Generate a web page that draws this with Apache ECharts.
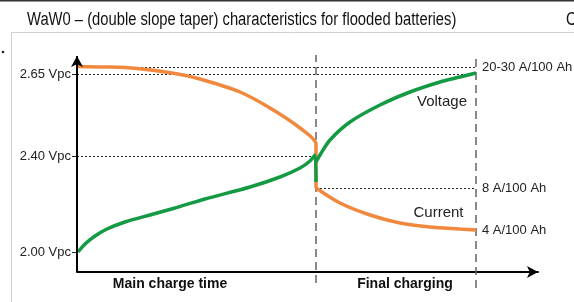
<!DOCTYPE html>
<html>
<head>
<meta charset="utf-8">
<script src="https://cdn.jsdelivr.net/npm/echarts@6/dist/echarts.min.js"></script>
<style>
  html, body { margin: 0; padding: 0; background: #fff; }
  #chart { width: 574px; height: 302px; }
</style>
</head>
<body>
<div id="chart"></div>
<script>
// schematic chart: both axes are in plain "level" units, no real scale
const voltageLevels = [20, 116, 198];
const voltageLabels = ['2.00 Vpc', '2.40 Vpc', '2.65 Vpc'];
const phaseLabelX = [93, 328];
const phaseLabels = ['Main charge time', 'Final charging'];
const phaseEnds = [239, 399];

// current, main charge phase (ends with the step down)
const currentMainX = [1, 28, 58, 98, 123, 163, 193, 223, 239, 239];
const currentMainY = [205.5, 205, 203.7, 198.5, 193, 180, 164, 144, 128, 84];
// current, final charging
const currentFinalX = [239, 263, 293, 323, 353, 383, 399];
const currentFinalY = [84, 69, 57, 49, 45, 43, 42];

// voltage, main charge phase
const voltageMainX = [1, 8, 18, 30, 48, 73, 98, 128, 173, 203, 223, 233, 238, 239];
const voltageMainY = [20, 28, 36, 43, 50, 57, 64, 73, 85, 95, 104, 111, 117, 90];
// voltage, final charging
const voltageFinalX = [239, 243, 253, 273, 303, 333, 363, 383, 399];
const voltageFinalY = [110, 117, 132, 150, 167, 180, 190, 195, 199];

const currentLevels = [205, 84];
const currentLabels = ['20-30 A/100 Ah', '8 A/100 Ah', '4 A/100 Ah'];

const titleText = 'WaW0 \u2013 (double slope taper) characteristics for flooded batteries)';

const ORANGE = '#f0883e';
const GREEN = '#139a43';

function pairs(xs, ys) {
  return xs.map((x, i) => [x, ys[i]]);
}

const dotted = { color: '#222', width: 1, type: [2, 2] };
const dashed = { color: '#636363', width: 1.5, type: [8, 5] };

const guideLines = [
  [{ coord: [0, currentLevels[0]], lineStyle: dotted,
     label: { show: true, position: 'end', formatter: currentLabels[0] } },
   { coord: [phaseEnds[1], currentLevels[0]] }],
  [{ coord: [0, voltageLevels[2]], lineStyle: dotted },
   { coord: [phaseEnds[1], voltageLevels[2]] }],
  [{ coord: [0, voltageLevels[1]], lineStyle: dotted },
   { coord: [phaseEnds[0], voltageLevels[1]] }],
  [{ coord: [phaseEnds[0], currentLevels[1]], lineStyle: dotted,
     label: { show: true, position: 'end', formatter: currentLabels[1] } },
   { coord: [phaseEnds[1], currentLevels[1]] }],
  [{ coord: [phaseEnds[0], -11], lineStyle: dashed }, { coord: [phaseEnds[0], 217] }],
  [{ coord: [phaseEnds[1], -16], lineStyle: dashed }, { coord: [phaseEnds[1], 217] }]
];

const chart = echarts.init(document.getElementById('chart'));

const option = {
  animation: false,
  backgroundColor: '#fff',
  textStyle: { fontFamily: 'Liberation Sans, Arial, sans-serif' },
  graphic: [
    { type: 'rect', shape: { x: 0, y: 0, width: 574, height: 1.5 }, style: { fill: '#333' } },
    { type: 'rect', shape: { x: 11.5, y: 32.5, width: 570, height: 290 },
      style: { fill: 'none', stroke: '#cfcfcf', lineWidth: 1 } },
    { type: 'circle', shape: { cx: 3, cy: 52, r: 1.3 }, style: { fill: '#222' } },
    { type: 'text', x: 27, y: 20, scaleX: 0.82,
      style: { text: titleText, fontSize: 18, fontFamily: 'Liberation Sans, Arial',
               fill: '#111', verticalAlign: 'middle' } },
    { type: 'text', x: 566, y: 20, scaleX: 0.82,
      style: { text: 'C', fontSize: 18, fontFamily: 'Liberation Sans, Arial',
               fill: '#111', verticalAlign: 'middle' } }
  ],
  grid: { left: 77, right: 36, top: 54, bottom: 14, outerBoundsMode: 'none', containLabel: false },
  xAxis: {
    type: 'value',
    min: 0,
    max: 461,
    splitLine: { show: false },
    axisTick: { show: false },
    axisLine: {
      show: true, onZero: true,
      symbol: ['none', 'arrow'], symbolSize: [9, 11],
      lineStyle: { color: '#000', width: 2 }
    },
    axisLabel: {
      customValues: phaseLabelX,
      formatter: v => phaseLabels[phaseLabelX.indexOf(v)] || '',
      margin: -11,
      fontSize: 14,
      fontWeight: 'bold',
      color: '#111'
    }
  },
  yAxis: {
    type: 'value',
    min: -16,
    max: 218,
    splitLine: { show: false },
    axisLine: { show: false },
    axisTick: {
      show: true, customValues: voltageLevels, length: 5,
      lineStyle: { color: '#222', width: 1 }
    },
    axisLabel: {
      customValues: voltageLevels,
      formatter: v => voltageLabels[voltageLevels.indexOf(v)] || '',
      margin: 6,
      fontSize: 13,
      color: '#222'
    }
  },
  series: [
    {
      name: 'guides',
      type: 'line',
      data: [],
      markLine: {
        silent: true,
        z: 1,
        symbol: 'none',
        label: { show: false, color: '#222', fontSize: 13, distance: 6 },
        data: guideLines
      },
      markPoint: {
        silent: true,
        symbol: 'circle',
        symbolSize: 0,
        label: { show: true, position: 'inside', formatter: '{b}', color: '#222', fontSize: 15 },
        data: [
          { name: 'Voltage', coord: [365, 170] },
          { name: 'Current', coord: [361.5, 59] }
        ]
      }
    },
    {
      name: 'yaxis',
      type: 'line',
      data: [],
      markLine: {
        silent: true,
        z: 10,
        symbol: ['none', 'arrow'],
        symbolSize: [9, 11],
        label: { show: false },
        lineStyle: { color: '#000', width: 2, type: 'solid' },
        data: [[{ coord: [0, 0] }, { coord: [0, 216] }]]
      }
    },
    {
      name: 'Current',
      type: 'line',
      data: pairs(currentMainX, currentMainY),
      smooth: 0.25,
      showSymbol: false,
      z: 3,
      lineStyle: { color: ORANGE, width: 3.5 }
    },
    {
      name: 'Current final',
      type: 'line',
      data: pairs(currentFinalX, currentFinalY),
      smooth: 0.3,
      showSymbol: false,
      z: 3,
      lineStyle: { color: ORANGE, width: 3.5 },
      endLabel: { show: true, formatter: currentLabels[2], distance: 6, color: '#222', fontSize: 13 }
    },
    {
      name: 'Voltage',
      type: 'line',
      data: pairs(voltageMainX, voltageMainY),
      smooth: 0.25,
      showSymbol: false,
      z: 4,
      lineStyle: { color: GREEN, width: 3.5 }
    },
    {
      name: 'Voltage final',
      type: 'line',
      data: pairs(voltageFinalX, voltageFinalY),
      smooth: 0.3,
      showSymbol: false,
      z: 4,
      lineStyle: { color: GREEN, width: 3.5 }
    }
  ]
};

chart.setOption(option);
</script>
</body>
</html>
